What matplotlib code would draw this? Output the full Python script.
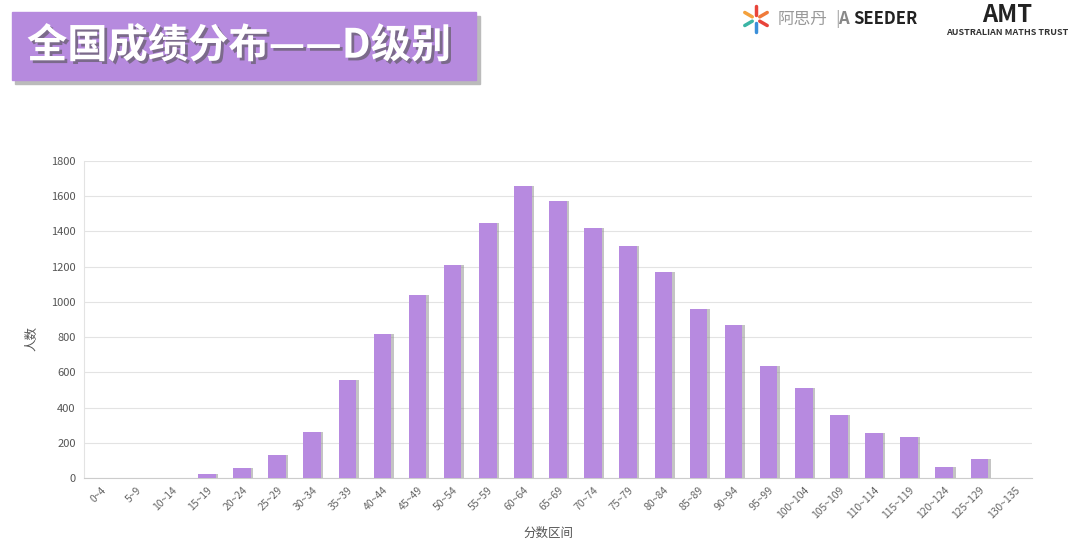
import matplotlib.pyplot as plt
import matplotlib.patheffects as pe
from matplotlib.patches import Rectangle
import numpy as np

plt.rcParams['font.family'] = ['Noto Sans CJK SC', 'DejaVu Sans']

# 分数区间与人数
bins = ['0~4', '5~9', '10~14', '15~19', '20~24', '25~29', '30~34', '35~39',
        '40~44', '45~49', '50~54', '55~59', '60~64', '65~69', '70~74', '75~79',
        '80~84', '85~89', '90~94', '95~99', '100~104', '105~109', '110~114',
        '115~119', '120~124', '125~129', '130~135']
counts = [0, 0, 2, 20, 55, 130, 260, 555, 820, 1040, 1210, 1450, 1660, 1575,
          1420, 1315, 1170, 960, 870, 635, 510, 360, 255, 230, 65, 110, 2]

bar_color = '#b78ae0'

fig = plt.figure(figsize=(10.8, 5.43), dpi=100)
ax = fig.add_axes([0.0778, 0.1197, 0.8778, 0.5838])

x = np.arange(len(bins))
# 阴影
ax.bar(x + 0.07, counts, width=0.5, color='#8a8a8a', alpha=0.5, zorder=2)
ax.bar(x, counts, width=0.5, color=bar_color, zorder=3)

ax.set_xlim(-0.5, len(bins) - 0.5)
ax.set_ylim(0, 1800)
ax.set_yticks(range(0, 1801, 200))
ax.set_xticks(x)
ax.set_xticklabels(bins, rotation=45, ha='right', rotation_mode='anchor',
                   fontsize=7.5, color='#666666')
ax.tick_params(axis='y', labelsize=8, labelcolor='#555555', length=0, pad=6)
ax.tick_params(axis='x', length=0, pad=5)
ax.grid(axis='y', color='#e3e3e3', linewidth=0.8, zorder=0)
for s in ['top', 'right']:
    ax.spines[s].set_visible(False)
ax.spines['left'].set_color('#e3e3e3')
ax.spines['bottom'].set_color('#cccccc')
ax.set_ylabel('人数', fontsize=9, color='#555555', va='center')
ax.yaxis.set_label_coords(-0.055, 0.44)
ax.set_xlabel('分数区间', fontsize=9, color='#555555', va='center')
ax.xaxis.set_label_coords(0.49, -0.173)

# 标题框
shadow = Rectangle((0.014, 0.845), 0.43, 0.125, transform=fig.transFigure,
                   color='#bbbbbb', zorder=0)
fig.patches.append(shadow)
box = Rectangle((0.011, 0.853), 0.43, 0.125, transform=fig.transFigure,
                color='#b68ade', zorder=1)
fig.patches.append(box)
fig.text(0.025, 0.915, '全国成绩分布——D级别', fontsize=29, fontweight='bold',
         color='white', va='center', ha='left',
         path_effects=[pe.withSimplePatchShadow(offset=(2, -2), shadow_rgbFace='#555555', alpha=0.6)])

# logo
cx, cy = 0.700, 0.965
cols = ['#e8443a', '#f4a13c', '#3bb5a5', '#3b8fd9', '#e8443a', '#f07a3a']
for i, c in enumerate(cols):
    a = np.pi / 2 + i * np.pi / 3
    fig.add_artist(plt.Line2D([cx + 0.004 * np.cos(a), cx + 0.012 * np.cos(a)],
                              [cy + 0.008 * np.sin(a), cy + 0.024 * np.sin(a)],
                              transform=fig.transFigure, color=c, linewidth=2.5,
                              solid_capstyle='round'))
fig.text(0.720, 0.965, '阿思丹', fontsize=12, color='#999999', va='center')
fig.text(0.773, 0.965, '|', fontsize=12, color='#aaaaaa', va='center')
fig.text(0.776, 0.965, 'A', fontsize=12, color='#888888', va='center', fontweight='bold')
fig.text(0.790, 0.965, 'SEEDER', fontsize=12, color='#222222', va='center', fontweight='bold')
fig.text(0.933, 0.972, 'AMT', fontsize=17, color='#222222', va='center', ha='center',
         fontweight='heavy')
fig.text(0.933, 0.940, 'AUSTRALIAN MATHS TRUST', fontsize=6.5, color='#333333',
         va='center', ha='center', fontweight='bold')

fig.savefig('out.png', dpi=100)
